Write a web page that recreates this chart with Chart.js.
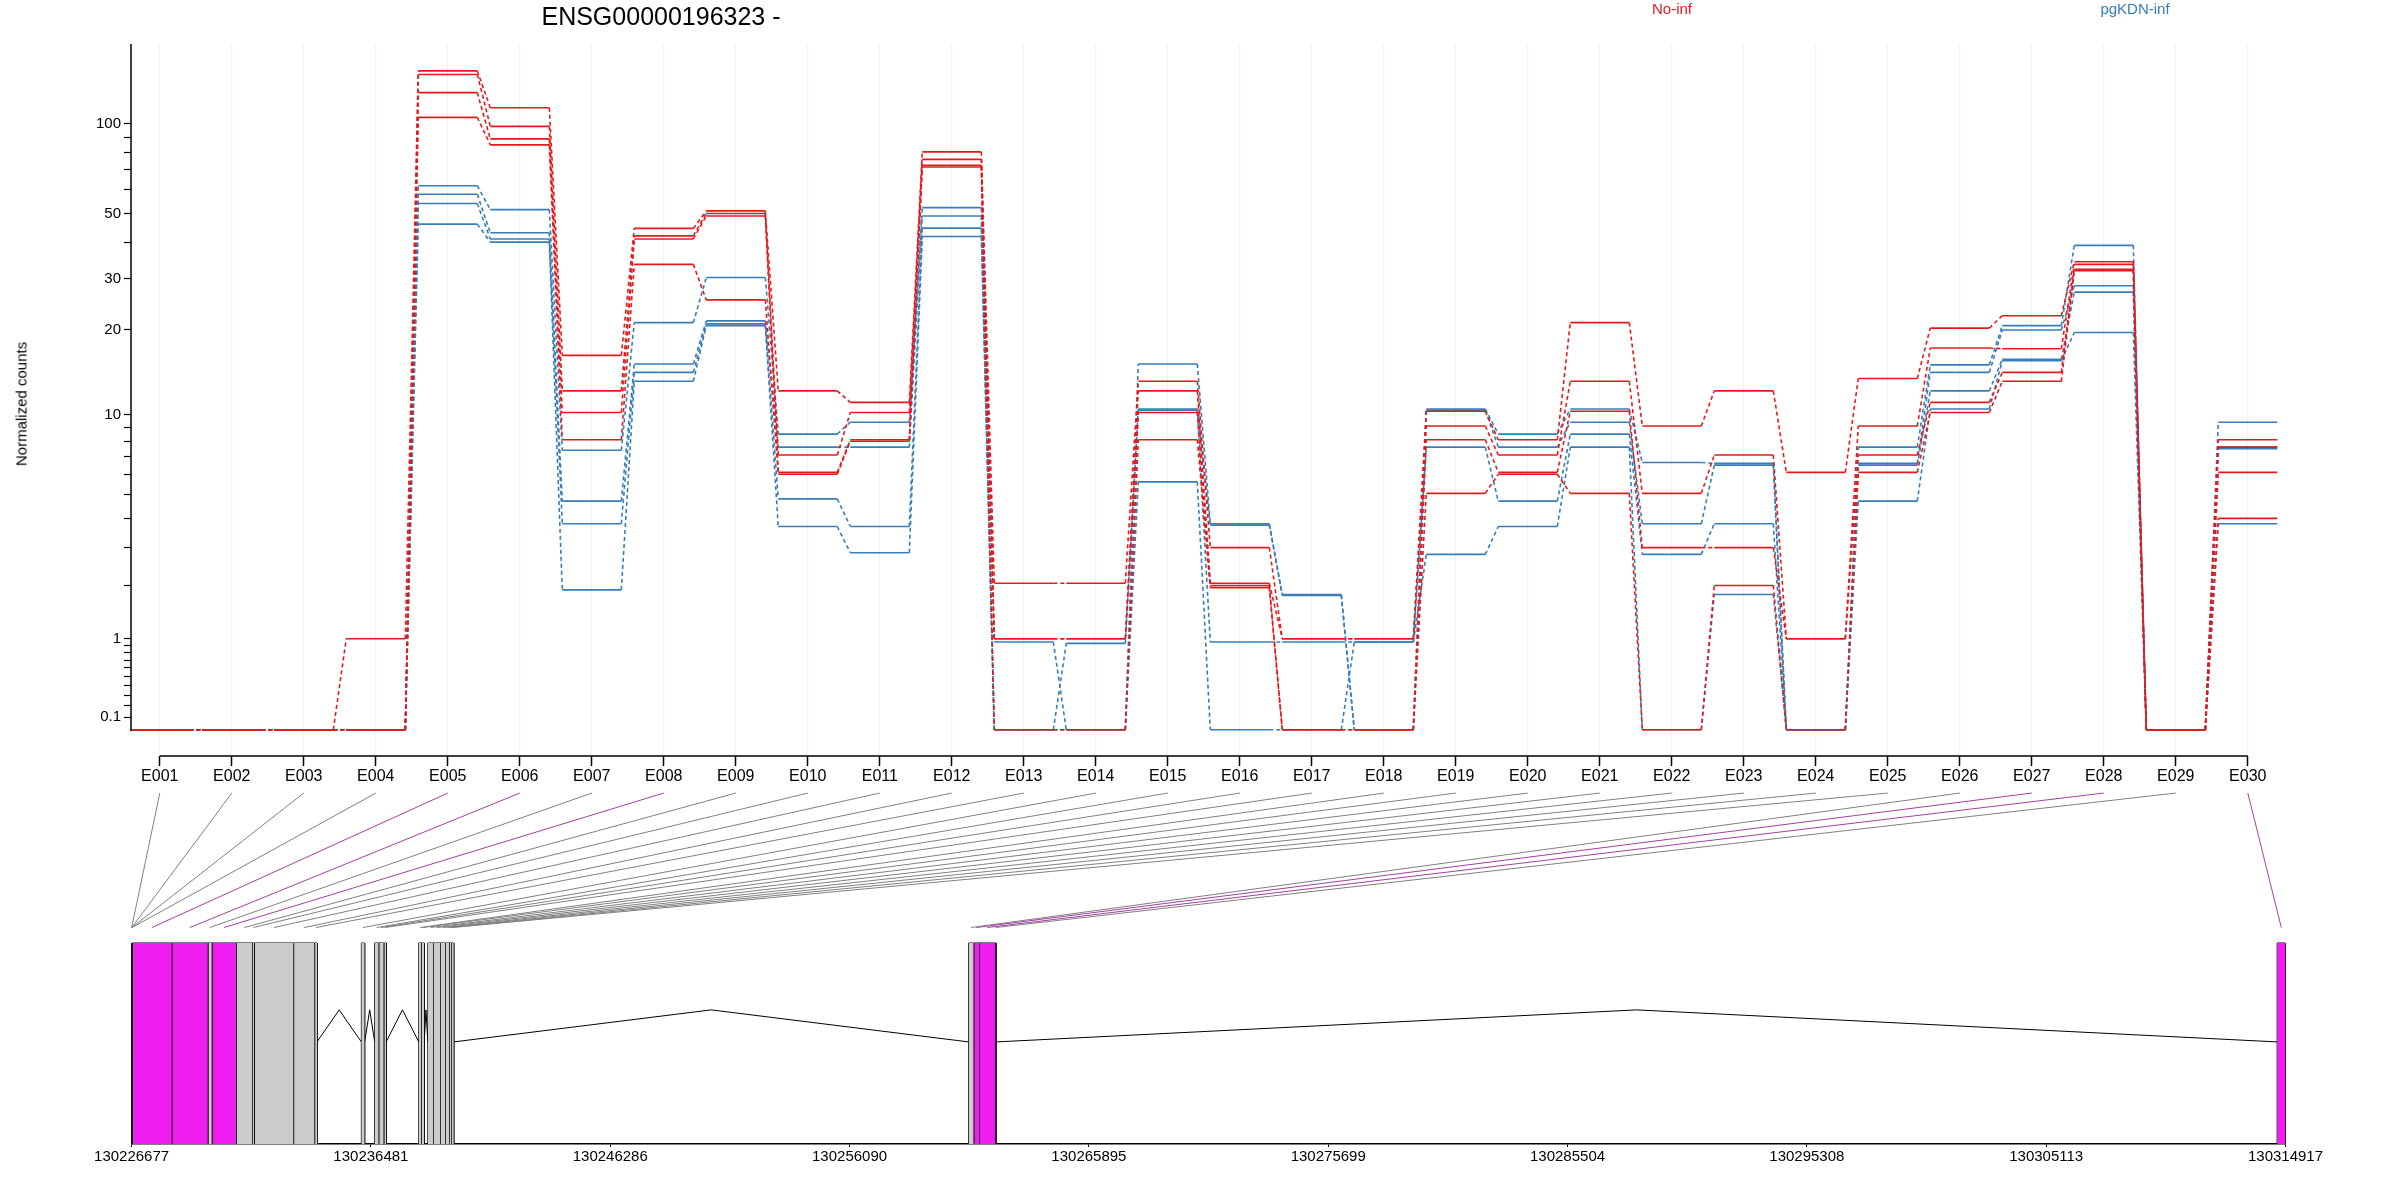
<!DOCTYPE html>
<html><head><meta charset="utf-8">
<script src="https://cdn.jsdelivr.net/npm/chart.js@4/dist/chart.umd.min.js"></script>
<style>
body{margin:0;background:#fff;width:2400px;height:1200px;position:relative;overflow:hidden;font-family:'Liberation Sans Narrow','Liberation Sans',Arial,sans-serif}
canvas{position:absolute;left:0}
.t{position:absolute;white-space:nowrap}
</style></head><body>
<canvas id="c1" width="2400" height="792" style="top:0;width:2400px;height:792px"></canvas>
<canvas id="c2" width="2400" height="408" style="top:792px;width:2400px;height:408px"></canvas>
<div class="t" style="left:0;top:2px;width:1322px;text-align:center;font-size:25px">ENSG00000196323 -</div>
<div class="t" style="left:1622px;top:0;width:100px;text-align:center;font-size:15px;color:#E41A1C">No-inf</div>
<div class="t" style="left:2085px;top:0;width:100px;text-align:center;font-size:15px;color:#377EB8">pgKDN-inf</div>
<div class="t" style="left:21px;top:404px;transform:translate(-50%,-50%) rotate(-90deg);font-size:15px">Normalized counts</div>
<script>
const exonIds = Array.from({length:30},(_,i)=>'E'+String(i+1).padStart(3,'0'));
const noInf1 = [0,0,0,1,150,113,16.3,44.5,51,12.2,11.1,80.5,2.05,2.05,13.2,3.0,1,1,10.3,8.1,21.2,9.1,12.2,6.1,13.5,20.3,22.4,34.3,0,8.1];
const noInf2 = [0,0,0,0,146,98,12.2,42,50,7.1,10.2,76,1,1,12.2,2.05,1,1,9.1,7.1,13.2,5.05,7.1,1,9.1,17.3,17.2,33.6,0,7.6];
const noInf3 = [0,0,0,0,127,89,10.2,41,49,6.1,8.1,72.6,1,1,10.2,2.0,0,0,8.1,6.1,10.3,3.0,3.0,1,7.1,11.1,14.2,32.3,0,6.1];
const noInf4 = [0,0,0,0,105,85,8.1,33.6,25.4,6.0,8.0,71.6,0,0,8.1,1.95,0,0,5.05,6.0,5.05,0,2.0,0,6.1,10.2,13.2,32,0,4.0];
const pgKDN1 = [0,0,0,0,62,51.5,7.4,21.2,30.3,8.5,9.4,52.3,0.95,0,15.2,3.8,1.8,0,10.5,8.5,10.5,6.65,6.6,0,7.6,15.1,20.7,39,0,9.4];
const pgKDN2 = [0,0,0,0,58,43,4.7,15.2,21.5,7.6,7.6,49,0,0.93,10.5,3.75,1.78,0,10.4,7.6,9.4,3.8,6.5,0,6.6,14.2,20,28.4,0,7.6];
const pgKDN3 = [0,0,0,0,54,41,3.8,14.2,21,4.8,3.7,44.6,0,0,10.4,0.95,0.95,0.95,7.6,4.7,8.5,2.8,3.8,0,6.5,12.2,15.8,27,0,7.5];
const pgKDN4 = [0,0,0,0,46,40,1.9,13.2,20.7,3.7,2.85,41.8,0,0,5.6,0,0,0.95,2.8,3.7,7.6,0,1.8,0,4.7,10.5,15.6,19.6,0,3.8];
const labeledTicks = [0.1,1,10,20,30,50,100];
const minorTicks = [0.2,0.3,0.4,0.5,0.6,0.7,0.8,0.9,2,3,4,5,6,7,8,9,40,60,70,80,90];
const exonStart = [130226677,130226682,130226687,130226692,130226697,130228322,130229800,130229963,130230961,130231630,130231700,130233313,130234174,130236090,130236636,130236800,130237006,130238442,130238552,130238811,130239045,130239332,130239537,130239701,130239783,130260969,130261175,130261396,130262065,130314575];
const exonEnd   = [130226682,130226687,130226692,130226697,130228322,130229800,130229963,130230961,130231630,130231700,130233313,130234174,130234273,130236226,130236800,130237006,130237104,130238552,130238663,130239045,130239332,130239537,130239701,130239783,130239877,130261175,130261396,130262065,130262107,130314917];
const exonSignif = [0,0,0,0,1,1,0,1,0,0,0,0,0,0,0,0,0,0,0,0,0,0,0,0,0,0,1,1,0,1];
const genomeTicks = [130226677,130236481,130246286,130256090,130265895,130275699,130285504,130295308,130305113,130314917];

const RED='#E41A1C', BLUE='#377EB8', MAG='#F01DF0';
const tf = v => Math.log10(v+1);
const HW = 0.41;
function series(arr){const d=[];arr.forEach((v,i)=>{d.push({x:i+1-HW,y:tf(v)});d.push({x:i+1+HW,y:tf(v)});});return d;}
function ds(arr,col){return {data:series(arr),borderColor:col,borderWidth:1.6,pointRadius:0,fill:false,tension:0,
  segment:{borderDash:c=>(c.p0DataIndex%2)?[4,3]:undefined}};}
const FONT="'Liberation Sans Narrow','Liberation Sans',Arial,sans-serif";

const axisPlugin={id:'axl',afterDraw(ch){const c=ch.ctx,x=ch.scales.x,y=ch.scales.y;c.save();c.strokeStyle='#000';c.lineWidth=1.5;
  c.beginPath();c.moveTo(x.left,y.getPixelForValue(-0.005));c.lineTo(x.left,y.top);c.stroke();
  c.beginPath();c.moveTo(x.getPixelForValue(1),y.bottom);c.lineTo(x.getPixelForValue(30),y.bottom);c.stroke();c.restore();}};

const ch1=new Chart(document.getElementById('c1'),{type:'line',
 data:{datasets:[ds(noInf1,RED),ds(noInf2,RED),ds(noInf3,RED),ds(noInf4,RED),ds(pgKDN1,BLUE),ds(pgKDN2,BLUE),ds(pgKDN3,BLUE),ds(pgKDN4,BLUE)]},
 options:{responsive:false,animation:false,devicePixelRatio:1,
  layout:{padding:{top:44,right:109,left:0,bottom:0}},
  plugins:{legend:{display:false},tooltip:{enabled:false}},
  scales:{
   x:{type:'linear',min:0.6,max:30.6,
     afterBuildTicks:s=>{s.ticks=exonIds.map((_,i)=>({value:i+1}));},
     afterFit:s=>{s.height=36;},
     border:{display:false},
     grid:{color:c=>(c.index%2?'rgba(240,215,240,0.45)':'rgba(225,225,232,0.45)'),borderDash:[2,4],tickLength:10,tickColor:'#000',tickWidth:1.5},
     ticks:{autoSkip:false,maxRotation:0,padding:1,color:'#000',font:{family:FONT,size:16},callback:v=>exonIds[Math.round(v)-1]}},
   y:{type:'linear',min:-0.087,max:2.268,
     afterBuildTicks:s=>{s.ticks=labeledTicks.concat(minorTicks).map(v=>({value:tf(v)}));},
     afterFit:s=>{s.width=131;},
     border:{display:false},
     grid:{drawOnChartArea:false,tickLength:7,tickColor:'#000',tickWidth:1.2},
     ticks:{autoSkip:false,padding:3,color:'#000',font:{family:FONT,size:15},
       callback:v=>{const r=Math.pow(10,v)-1;const m=labeledTicks.find(t=>Math.abs(t-r)<1e-6*Math.max(1,t));return m===undefined?'':String(m);}}}
  }},plugins:[axisPlugin]});

// gene model
const RT=0.571, IB=0.29, IP=0.381, CB=0.615;
const geneDs=[];
exonStart.forEach((s,i)=>{const e=exonEnd[i];
 geneDs.push({data:[{x:s,y:RT},{x:e,y:RT}],borderWidth:0,borderColor:'rgba(0,0,0,0)',
  backgroundColor:exonSignif[i]?MAG:'#CCCCCC',fill:'origin',pointRadius:0,tension:0});
 geneDs.push({data:[{x:s,y:0},{x:s,y:RT},{x:e,y:RT},{x:e,y:0},{x:s,y:0}],borderColor:'#000',borderWidth:1,fill:false,pointRadius:0,tension:0});});
for(let i=0;i<exonStart.length-1;i++){const a=exonEnd[i],b=exonStart[i+1];
 if(b-a>30) geneDs.push({data:[{x:a,y:IB},{x:(a+b)/2,y:IP},{x:b,y:IB}],borderColor:'#000',borderWidth:1,pointRadius:0,fill:false,tension:0});}
const connPlugin={id:'conn',afterDatasetsDraw(ch){const c=ch.ctx,xg=ch.scales.x,yg=ch.scales.y,x1=ch1.scales.x;
 c.save();c.lineWidth=1;
 exonStart.forEach((s,i)=>{c.strokeStyle=exonSignif[i]?'#A040A0':'#808080';c.beginPath();
  c.moveTo(x1.getPixelForValue(i+1),yg.getPixelForValue(0.997));
  c.lineTo(xg.getPixelForValue((s+exonEnd[i])/2),yg.getPixelForValue(CB));c.stroke();});
 c.restore();}};
new Chart(document.getElementById('c2'),{type:'line',data:{datasets:geneDs},
 options:{responsive:false,animation:false,devicePixelRatio:1,
  layout:{padding:{top:0,right:114.5,left:0,bottom:0}},
  plugins:{legend:{display:false},tooltip:{enabled:false},filler:{propagate:false}},
  scales:{
   x:{type:'linear',min:130226677,max:130314917,
     afterBuildTicks:s=>{s.ticks=genomeTicks.map(v=>({value:v}));},
     afterFit:s=>{s.height=56;},
     border:{display:true,color:'#000',width:1.5},
     grid:{drawOnChartArea:false,tickLength:3,tickColor:'#000'},
     ticks:{autoSkip:false,maxRotation:0,padding:1,color:'#000',font:{family:FONT,size:15},callback:v=>String(v)}},
   y:{type:'linear',min:0,max:1,display:false,afterFit:s=>{s.width=131.6;}}
  }},plugins:[connPlugin]});
</script></body></html>
